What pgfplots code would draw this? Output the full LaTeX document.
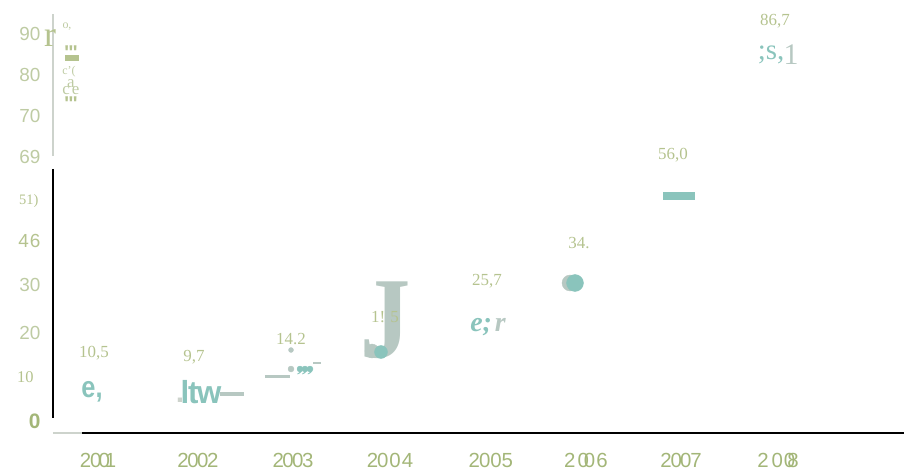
\documentclass[border=0pt]{standalone}
\usepackage{fontspec}
\usepackage{pgfplots}
\pgfplotsset{compat=1.18}
\setmainfont{Liberation Serif}
\newfontfamily\sans{Liberation Sans}
\definecolor{teal}{HTML}{8AC4BC}
\definecolor{ash}{HTML}{B7C8C2}
\definecolor{pale}{HTML}{CDD3CC}
\definecolor{olive}{HTML}{A3B678}
\definecolor{olivelt}{HTML}{B5C38F}
\definecolor{sage}{HTML}{BECBA3}
\newcommand{\fs}[1]{\fontsize{#1}{#1}\selectfont}
% text placed by reference pixel
\newcommand{\T}[4][]{\node[inner sep=0pt,anchor=center,#1] at (axis cs:#2,#3) {#4};}
\begin{document}
\begin{tikzpicture}
\path[use as bounding box] (0,0) rectangle (904bp,475bp);
\begin{axis}[
    at={(53bp,42bp)}, anchor=south west,
    scale only axis, width=851bp, height=433bp,
    xmin=2000.536, xmax=2009.309, ymin=0, ymax=100.7,
    clip=false,
    axis line style={draw=none},
    tick style={draw=none},
    xtick={2001,2002.03,2003.01,2004.01,2005.05,2006.03,2007.01,2008.01},
    xticklabels={
      {2\kern-1pt0\kern-3pt0\kern-5pt1},
      {2\kern-1.5pt0\kern-1.5pt0\kern-1.5pt2},
      {2\kern-1.5pt0\kern-1.5pt0\kern-1.5pt3},
      {2\kern-1pt0\kern1pt0\kern1pt4},
      {2\kern-1pt0\kern0pt0\kern0pt5},
      {2\kern2pt0\kern-5pt0\kern1pt6},
      {2\kern-1pt0\kern-2pt0\kern-1pt7},
      {2\kern3pt0\kern1pt0\kern-8pt8}},
    x tick label style={anchor=center, inner sep=0pt, yshift=-27bp, text=olive,
      font=\sans\fs{20.5}},
    ytick={0,10.2,20.5,31.6,41.9,51.2,61.4,70.9,80.5,90},
    yticklabels={
      {\bfseries\fs{21}\textcolor{olive}{0}},
      {\rmfamily\fs{16.5}\textcolor{olivelt}{10}\kern7pt},
      {\textcolor{sage}{20}},
      {\textcolor{sage}{30}},
      {\textcolor{olivelt}{4\kern1pt6}},
      {\rmfamily\fs{14.5}\textcolor{olivelt}{51)}\kern2pt},
      {\textcolor{sage}{69}},
      {\textcolor{sage}{70}},
      {\textcolor{sage}{80}},
      {\textcolor{sage}{90}}},
    y tick label style={anchor=east, xshift=-9bp, yshift=12bp, font=\sans\fs{19}},
]
% axis lines
\addplot[pale, line width=1.3bp] coordinates {(2000.536,97.4) (2000.536,64.4)};
\addplot[black, line width=2.6bp] coordinates {(2000.536,61.4) (2000.536,3.5)};
\addplot[pale, line width=2.6bp] coordinates {(2000.536,0) (2000.835,0)};
\addplot[black, line width=2.6bp] coordinates {(2000.835,0) (2009.309,0)};
% dashes and bar
\addplot[ash, line width=4bp] coordinates {(2002.26,9.1) (2002.50,9.1)};
\addplot[ash, line width=3bp] coordinates {(2002.72,13.2) (2002.98,13.2)};
\addplot[ash, line width=2.5bp] coordinates {(2003.22,16.3) (2003.30,16.3)};
\addplot[teal, line width=8bp] coordinates {(2006.825,55.1) (2007.155,55.1)};
\end{axis}
\begin{axis}[
    at={(0,0)}, anchor=south west,
    scale only axis, width=904bp, height=475bp,
    xmin=0, xmax=904, ymin=0, ymax=475, y dir=reverse,
    hide axis, clip=false,
]
% broken value glyphs
\T{92}{392}{\sans\bfseries\fs{30}\textcolor{teal}{\scalebox{.85}[1]{e,}}}
\T{180}{400.5}{\sans\bfseries\fs{30}\textcolor{pale}{.}}
\T{201}{392}{\sans\bfseries\fs{32}\textcolor{teal}{\scalebox{.98}[1]{l\kern-1pt t\kern-1.5pt w}}}
\T{305}{372}{\bfseries\fs{22}\textcolor{teal}{,,,}}
\T{386}{320}{\bfseries\fs{116}\textcolor{ash}{\scalebox{.87}[1]{J}}}
\T{488}{327}{\bfseries\itshape\fs{28}\textcolor{teal}{e;\kern3pt}\textcolor{ash}{r}}
\T{771}{55}{\fs{29}\textcolor{teal}{;s,}}
\T{791}{55}{\fs{30}\textcolor{ash}{1}}
% value labels
\T{94}{353}{\fs{17}\textcolor{olivelt}{10,5}}
\T{194}{357}{\fs{17}\textcolor{olivelt}{9,7}}
\T{291}{339}{\fs{17}\textcolor{olivelt}{14.2}}
\T{385}{317}{\fs{17}\textcolor{olivelt}{1!\textcolor{ash}{.}\kern1pt 5}}
\T{487}{281}{\fs{17}\textcolor{olivelt}{25,7}}
\T{579}{243}{\fs{17}\textcolor{olivelt}{34.}}
\T{673}{155}{\fs{17}\textcolor{olivelt}{56,0}}
\T{775}{21}{\fs{17}\textcolor{olivelt}{86,7}}
% dots
\addplot[only marks, mark=*, mark size=2.5pt, ash] coordinates {(291,350)};
\addplot[only marks, mark=*, mark size=3pt, ash] coordinates {(291,369)};
\addplot[only marks, mark=*, mark size=3pt, teal] coordinates {(300,369) (305,369) (310,369)};
\addplot[only marks, mark=*, mark size=7pt, ash] coordinates {(372,351)};
\addplot[only marks, mark=*, mark size=6.5pt, teal] coordinates {(381,352)};
\addplot[only marks, mark=*, mark size=8pt, ash] coordinates {(570,283)};
\addplot[only marks, mark=*, mark size=8.5pt, teal] coordinates {(575,283)};
% top-left legend remains
\T{50}{38}{\fs{36}\textcolor{olivelt}{r}}
\T{67}{27}{\fs{12}\textcolor{sage}{o,}}
\T{71}{53}{\sans\bfseries\fs{20}\textcolor{olivelt}{\textquotesingle\kern-.5pt\textquotesingle\kern-.5pt\textquotesingle}}
\addplot[olivelt, line width=6bp] coordinates {(65,58) (79,58)};
\T{69}{72}{\fs{12}\textcolor{sage}{c'(}}
\T{71}{84}{\fs{17}\textcolor{sage}{a}}
\T{71}{91}{\fs{17}\textcolor{sage}{c\kern2pt e}}
\T{71}{104}{\sans\bfseries\fs{20}\textcolor{olivelt}{\textquotesingle\kern-.5pt\textquotesingle\kern-.5pt\textquotesingle}}
\end{axis}
\end{tikzpicture}
\end{document}
